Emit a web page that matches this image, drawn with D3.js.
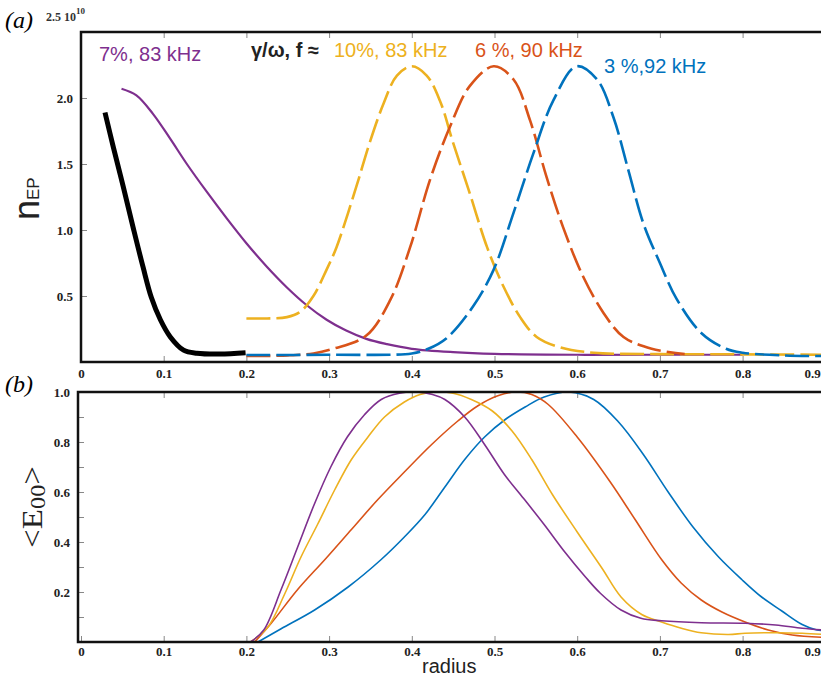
<!DOCTYPE html>
<html>
<head>
<meta charset="utf-8">
<script src="https://cdn.jsdelivr.net/npm/d3@7"></script>
<style>
  body { margin: 0; background: #fff; }
  svg { display: block; }
</style>
</head>
<body>
<svg id="chart"></svg>
<script>
// radius ticks shared by both panels
var radiusTicks = [0, 0.1, 0.2, 0.3, 0.4, 0.5, 0.6, 0.7, 0.8, 0.9];
var radiusLabels = ["0", "0.1", "0.2", "0.3", "0.4", "0.5", "0.6", "0.7", "0.8", "0.9"];
var nepTicks = [0, 0.5, 1.0, 1.5, 2.0];
var nepLabels = ["", "0.5", "1.0", "1.5", "2.0"];
var eTicks = [0, 0.1, 0.2, 0.3, 0.4, 0.5, 0.6, 0.7, 0.8, 0.9, 1.0];
var eLabels = ["", "", "0.2", "", "0.4", "", "0.6", "", "0.8", "", "1.0"];

// panel (a): n_EP profiles, units of 1e10  [radius, value]
var nepBlack = [[0.029,1.89],[0.039,1.63],[0.051,1.33],[0.063,1.02],[0.075,0.72],[0.085,0.49],[0.096,0.32],[0.108,0.19],[0.124,0.09],[0.140,0.066],[0.168,0.06],[0.199,0.07]];
var nepPurple = [[0.049,2.07],[0.067,2.02],[0.087,1.88],[0.108,1.69],[0.128,1.50],[0.152,1.29],[0.176,1.09],[0.2,0.90],[0.225,0.72],[0.249,0.565],[0.273,0.43],[0.297,0.32],[0.32,0.24],[0.345,0.175],[0.37,0.135],[0.4,0.1],[0.45,0.075],[0.5,0.062],[0.6,0.055],[0.7,0.055],[0.8,0.055]];
var nepYellow = [[0.2,0.33],[0.225,0.33],[0.249,0.34],[0.265,0.38],[0.281,0.5],[0.297,0.70],[0.309,0.87],[0.333,1.33],[0.349,1.66],[0.366,1.96],[0.382,2.17],[0.400,2.24],[0.418,2.17],[0.434,1.98],[0.450,1.66],[0.470,1.28],[0.491,0.87],[0.511,0.57],[0.531,0.34],[0.551,0.19],[0.58,0.11],[0.62,0.07],[0.7,0.06],[0.8,0.058],[0.9,0.055]];
var nepRed = [[0.2,0.045],[0.25,0.05],[0.281,0.065],[0.305,0.1],[0.345,0.2],[0.374,0.47],[0.398,0.87],[0.422,1.38],[0.446,1.78],[0.470,2.09],[0.499,2.24],[0.523,2.14],[0.543,1.83],[0.563,1.40],[0.583,1.02],[0.607,0.65],[0.632,0.37],[0.656,0.19],[0.69,0.1],[0.73,0.06]];
var nepBlue = [[0.2,0.053],[0.3,0.055],[0.4,0.065],[0.42,0.1],[0.442,0.18],[0.474,0.42],[0.499,0.70],[0.523,1.13],[0.547,1.58],[0.571,1.98],[0.599,2.24],[0.624,2.14],[0.644,1.85],[0.662,1.45],[0.68,1.05],[0.7,0.75],[0.72,0.48],[0.75,0.22],[0.78,0.1],[0.8,0.07],[0.85,0.05],[0.9,0.045]];

// panel (b): <E00> normalised
var ePurple = [[0.205,0],[0.221,0.048],[0.242,0.21],[0.262,0.38],[0.282,0.55],[0.302,0.70],[0.322,0.82],[0.343,0.91],[0.363,0.97],[0.385,0.995],[0.405,1.0],[0.425,0.99],[0.44,0.97],[0.464,0.90],[0.488,0.79],[0.512,0.67],[0.535,0.575],[0.56,0.47],[0.585,0.36],[0.61,0.26],[0.628,0.195],[0.653,0.128],[0.677,0.095],[0.702,0.085],[0.75,0.077],[0.803,0.075],[0.84,0.068],[0.872,0.055],[0.9,0.047]];
var eYellow = [[0.205,0],[0.226,0.06],[0.246,0.19],[0.266,0.34],[0.286,0.47],[0.307,0.61],[0.327,0.73],[0.347,0.82],[0.367,0.90],[0.391,0.96],[0.41,0.99],[0.43,1.0],[0.45,0.995],[0.472,0.97],[0.497,0.925],[0.521,0.845],[0.545,0.73],[0.57,0.59],[0.6,0.44],[0.63,0.295],[0.653,0.18],[0.678,0.11],[0.702,0.08],[0.726,0.055],[0.75,0.037],[0.783,0.03],[0.803,0.035],[0.84,0.037],[0.872,0.035],[0.9,0.03]];
var eRed = [[0.21,0],[0.23,0.075],[0.262,0.21],[0.295,0.33],[0.327,0.45],[0.359,0.57],[0.391,0.68],[0.424,0.79],[0.456,0.885],[0.48,0.945],[0.504,0.985],[0.525,1.0],[0.545,0.99],[0.565,0.95],[0.6,0.82],[0.64,0.64],[0.67,0.49],[0.702,0.33],[0.726,0.235],[0.75,0.168],[0.775,0.12],[0.803,0.08],[0.831,0.048],[0.86,0.028],[0.9,0.018]];
var eBlue = [[0.214,0],[0.242,0.053],[0.282,0.127],[0.323,0.22],[0.363,0.33],[0.391,0.42],[0.416,0.51],[0.44,0.62],[0.464,0.73],[0.488,0.82],[0.513,0.89],[0.537,0.94],[0.56,0.98],[0.59,1.0],[0.62,0.97],[0.65,0.88],[0.68,0.75],[0.71,0.6],[0.74,0.46],[0.771,0.34],[0.799,0.25],[0.823,0.18],[0.847,0.125],[0.872,0.07],[0.89,0.048],[0.9,0.045]];

var PURPLE = "#7E2F8E", YELLOW = "#EDB120", RED = "#D95319", BLUE = "#0072BD";

var svg = d3.select("#chart")
    .attr("width", 821)
    .attr("height", 677);

var x = d3.scaleLinear().domain([0, 0.9]).range([81, 825.3]);
var yA = d3.scaleLinear().domain([0, 2.5]).range([362, 32]);
var yB = d3.scaleLinear().domain([0, 1]).range([642, 392]);

var serif = "'Liberation Serif', 'Times New Roman', serif";
var sans = "'Liberation Sans', Arial, sans-serif";

svg.append("defs").selectAll("clipPath")
    .data([["clipA", 81, 32, 760, 330], ["clipB", 78, 392, 760, 250]])
    .enter().append("clipPath")
    .attr("id", function(d){ return d[0]; })
    .append("rect")
    .attr("x", function(d){ return d[1]; })
    .attr("y", function(d){ return d[2]; })
    .attr("width", function(d){ return d[3]; })
    .attr("height", function(d){ return d[4]; });

function styleAxis(g) {
    g.select(".domain").remove();
    g.selectAll(".tick line").attr("stroke", "#888").attr("stroke-width", 1);
    g.selectAll(".tick text")
        .attr("fill", "#222")
        .style("font-family", serif)
        .style("font-weight", "bold")
        .style("font-size", "13px");
}

function radiusFmt(d) {
    return radiusLabels[radiusTicks.indexOf(d)];
}

// last radius label sits on the right edge; keep it inside the picture
function lastLabelInside(g) {
    g.selectAll(".tick text").filter(function(d){ return d === 0.9; })
        .attr("text-anchor", "end").attr("x", -5);
}

// ---- panel (a) axes
svg.append("g").attr("transform", "translate(0,362)")
    .call(d3.axisBottom(x).tickValues(radiusTicks).tickFormat(radiusFmt)
        .tickSizeInner(-6).tickSizeOuter(0).tickPadding(7))
    .call(styleAxis).call(lastLabelInside);
svg.append("g").attr("transform", "translate(0,32)")
    .call(d3.axisTop(x).tickValues(radiusTicks.slice(1)).tickFormat("")
        .tickSizeInner(-6).tickSizeOuter(0))
    .call(styleAxis);
svg.append("g").attr("transform", "translate(81,0)")
    .call(d3.axisLeft(yA).tickValues(nepTicks)
        .tickFormat(function(d){ return nepLabels[nepTicks.indexOf(d)]; })
        .tickSizeInner(-6).tickSizeOuter(0).tickPadding(8))
    .call(styleAxis);

// ---- panel (b) axes
svg.append("g").attr("transform", "translate(0,642)")
    .call(d3.axisBottom(x).tickValues(radiusTicks).tickFormat(radiusFmt)
        .tickSizeInner(-6).tickSizeOuter(0).tickPadding(5))
    .call(styleAxis).call(lastLabelInside);
svg.append("g").attr("transform", "translate(0,392)")
    .call(d3.axisTop(x).tickValues(radiusTicks.slice(1)).tickFormat("")
        .tickSizeInner(-6).tickSizeOuter(0))
    .call(styleAxis);
svg.append("g").attr("transform", "translate(78,0)")
    .call(d3.axisLeft(yB).tickValues(eTicks)
        .tickFormat(function(d){ return eLabels[eTicks.indexOf(d)]; })
        .tickSizeInner(-6).tickSizeOuter(0).tickPadding(8))
    .call(styleAxis);

// ---- curves
var lineA = d3.line()
    .x(function(d){ return x(d[0]); })
    .y(function(d){ return yA(d[1]); })
    .curve(d3.curveCatmullRom.alpha(0.5));
var lineB = d3.line()
    .x(function(d){ return x(d[0]); })
    .y(function(d){ return yB(d[1]); })
    .curve(d3.curveCatmullRom.alpha(0.5));

var gA = svg.append("g").attr("clip-path", "url(#clipA)");
var seriesA = [
    {data: nepPurple, color: PURPLE, width: 2.2, dash: null},
    {data: nepYellow, color: YELLOW, width: 2.6, dash: "24,6"},
    {data: nepRed, color: RED, width: 2.6, dash: "24,6"},
    {data: nepBlue, color: BLUE, width: 2.6, dash: "24,6"},
    {data: nepBlack, color: "#000", width: 5, dash: null}
];
gA.selectAll("path").data(seriesA).enter().append("path")
    .attr("d", function(d){ return lineA(d.data); })
    .attr("fill", "none")
    .attr("stroke", function(d){ return d.color; })
    .attr("stroke-width", function(d){ return d.width; })
    .attr("stroke-dasharray", function(d){ return d.dash; });

var gB = svg.append("g").attr("clip-path", "url(#clipB)");
var seriesB = [
    {data: eBlue, color: BLUE},
    {data: eRed, color: RED},
    {data: eYellow, color: YELLOW},
    {data: ePurple, color: PURPLE}
];
gB.selectAll("path").data(seriesB).enter().append("path")
    .attr("d", function(d){ return lineB(d.data); })
    .attr("fill", "none")
    .attr("stroke", function(d){ return d.color; })
    .attr("stroke-width", 1.6);

// ---- frames
svg.append("rect").attr("x", 81).attr("y", 32).attr("width", 770).attr("height", 330)
    .attr("fill", "none").attr("stroke", "#111").attr("stroke-width", 2.5);
svg.append("rect").attr("x", 78).attr("y", 392).attr("width", 770).attr("height", 250)
    .attr("fill", "none").attr("stroke", "#111").attr("stroke-width", 2.5);

// ---- panel labels
svg.append("text").attr("x", 5).attr("y", 28)
    .style("font-family", serif).style("font-style", "italic").style("font-size", "24px")
    .text("(a)");
svg.append("text").attr("x", 5).attr("y", 392)
    .style("font-family", serif).style("font-style", "italic").style("font-size", "24px")
    .text("(b)");

var sci = svg.append("text").attr("x", 46).attr("y", 21)
    .attr("fill", "#333")
    .style("font-family", serif).style("font-weight", "bold").style("font-size", "12px");
sci.append("tspan").text("2.5 10");
sci.append("tspan").attr("dy", -7).style("font-size", "9px").text("10");

// y labels
var nep = svg.append("text")
    .attr("transform", "translate(39,220) rotate(-90)")
    .style("font-family", sans).style("font-size", "36px").attr("fill", "#222");
nep.append("tspan").text("n");
nep.append("tspan").style("font-size", "17px").text("EP");

var eLab = svg.append("text")
    .attr("transform", "translate(42,548) rotate(-90)")
    .attr("textLength", 82).attr("lengthAdjust", "spacingAndGlyphs")
    .style("font-family", serif).style("font-size", "30px").attr("fill", "#222");
eLab.append("tspan").text("<E");
eLab.append("tspan").attr("dy", 3).style("font-size", "22px").text("00");
eLab.append("tspan").attr("dy", -3).text(">");

svg.append("text").attr("x", 422).attr("y", 673)
    .style("font-family", sans).style("font-size", "20px").attr("fill", "#222")
    .text("radius");

// ---- annotations
function note(tx, ty, str, color, weight) {
    svg.append("text").attr("x", tx).attr("y", ty)
        .attr("fill", color)
        .style("font-family", sans).style("font-size", "20px")
        .style("font-weight", weight || "normal")
        .text(str);
}
note(99, 61, "7%, 83 kHz", PURPLE);
note(251, 57, "γ/ω, f ≈", "#222", "bold");
note(334, 57, "10%, 83 kHz", YELLOW);
note(475, 57, "6 %, 90 kHz", RED);
note(604, 73, "3 %,92 kHz", BLUE);
</script>
</body>
</html>
